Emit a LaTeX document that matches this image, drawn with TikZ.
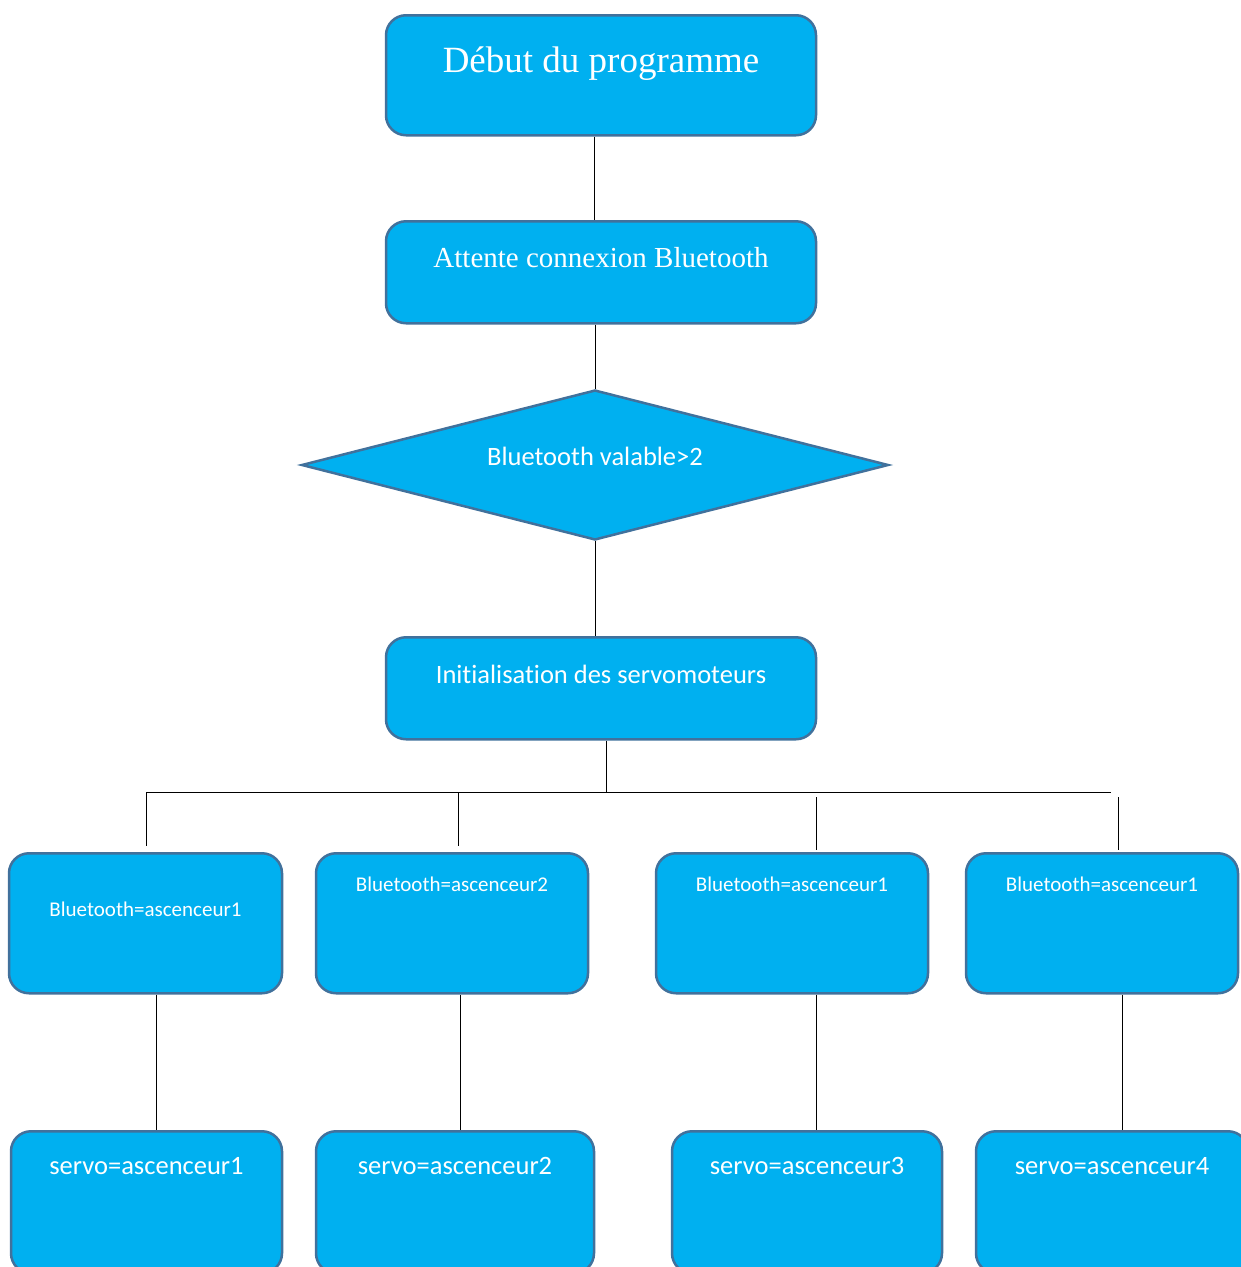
\documentclass[tikz,border=0pt]{standalone}
\usepackage{fontspec}
\setmainfont{Liberation Serif}
\newfontfamily\calibri[Ligatures=CommonOff]{Carlito}
\usetikzlibrary{shapes.geometric}
\definecolor{boxfill}{HTML}{00B0F0}
\definecolor{boxline}{HTML}{41719C}
\begin{document}
\begin{tikzpicture}[x=1pt,y=-1pt,
  box/.style={draw=boxline, fill=boxfill, line width=2.5pt, rounded corners=20pt, inner sep=0pt, anchor=north, text=white},
  conn/.style={draw=black, line width=1pt},
  fbig/.style={font=\fontsize{37}{40}\selectfont},
  fmid/.style={font=\fontsize{29}{32}\selectfont},
  fcal/.style={font=\calibri\fontsize{26.5}{30}\selectfont},
  fsmall/.style={font=\calibri\fontsize{21}{24}\selectfont}]
\useasboundingbox (0,0) rectangle (1241,1267);
\clip (0,0) rectangle (1241,1267);

% main column
\node[box, fbig, minimum width=430pt, text height=57pt, text depth=63pt] (start) at (601,14) {Début du programme};
\node[box, fmid, minimum width=430pt, text height=46pt, text depth=56pt] (wait) at (601,220) {Attente connexion Bluetooth};
\node[diamond, draw=boxline, fill=boxfill, line width=2.5pt, inner sep=0pt, minimum width=587pt, minimum height=150pt,
      label={[anchor=base, yshift=9pt, text=white, fcal]center:Bluetooth valable>2}] (dec) at (595,465) {};
\node[box, fcal, minimum width=430pt, text height=46pt, text depth=56pt] (init) at (601,636) {Initialisation des servomoteurs};

% row of tests
\node[box, fsmall, minimum width=273pt, text height=63pt, text depth=77pt] (b1) at (145.5,852) {Bluetooth=ascenceur1};
\node[box, fsmall, minimum width=272pt, text height=38pt, text depth=102pt] (b2) at (452,852) {Bluetooth=ascenceur2};
\node[box, fsmall, minimum width=272pt, text height=38pt, text depth=102pt] (b3) at (792,852) {Bluetooth=ascenceur1};
\node[box, fsmall, minimum width=272pt, text height=38pt, text depth=102pt] (b4) at (1102,852) {Bluetooth=ascenceur1};

% row of servos
\node[box, fcal, minimum width=271pt, text height=43pt, text depth=99pt] (s1) at (146.5,1130) {servo=ascenceur1};
\node[box, fcal, minimum width=278pt, text height=43pt, text depth=99pt] (s2) at (455,1130) {servo=ascenceur2};
\node[box, fcal, minimum width=270pt, text height=43pt, text depth=99pt] (s3) at (807,1130) {servo=ascenceur3};
\node[box, fcal, minimum width=272pt, text height=43pt, text depth=99pt] (s4) at (1112,1130) {servo=ascenceur4};

% bus coordinates
\coordinate (busM) at (606,792);
\coordinate (busL) at (146,792);
\coordinate (busR) at (1111,792);
\coordinate (t1a) at (146,792);  \coordinate (t1b) at (146,846);
\coordinate (t2a) at (458,792);  \coordinate (t2b) at (458,846);
\coordinate (t3a) at (816,797);  \coordinate (t3b) at (816,850);
\coordinate (t4a) at (1118,797); \coordinate (t4b) at (1118,850);

% connectors
\draw[conn] ([xshift=-7pt]start.south) -- ([xshift=-7pt]wait.north);
\draw[conn] (wait.south -| dec.north) -- (dec.north);
\draw[conn] (dec.south) -- (init.north -| dec.south);
\draw[conn] ([xshift=5pt]init.south) -- (busM);
\draw[conn] (busL) -- (busR);
\draw[conn] (t1a) -- (t1b);
\draw[conn] (t2a) -- (t2b);
\draw[conn] (t3a) -- (t3b);
\draw[conn] (t4a) -- (t4b);
\draw[conn] ([xshift=10.5pt]b1.south) -- ([xshift=10.5pt]b1.south |- s1.north);
\draw[conn] ([xshift=8pt]b2.south) -- ([xshift=8pt]b2.south |- s2.north);
\draw[conn] ([xshift=24pt]b3.south) -- ([xshift=24pt]b3.south |- s3.north);
\draw[conn] ([xshift=20pt]b4.south) -- ([xshift=20pt]b4.south |- s4.north);
\end{tikzpicture}
\end{document}
